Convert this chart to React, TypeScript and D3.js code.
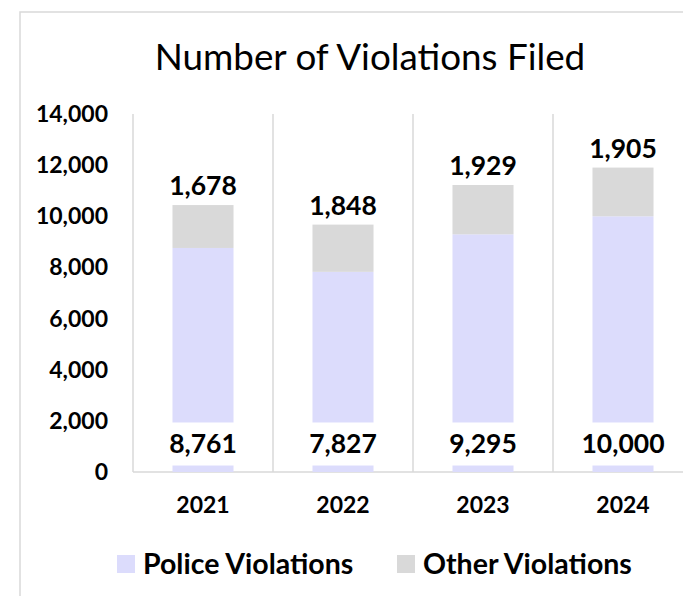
import React, { useRef, useEffect } from 'react';
import * as d3 from 'd3';

const years = ['2021', '2022', '2023', '2024'];
const policeViolations = [8761, 7827, 9295, 10000];
const otherViolations = [1678, 1848, 1929, 1905];
const yTicks = [0, 2000, 4000, 6000, 8000, 10000, 12000, 14000];
const seriesNames = ['Police Violations', 'Other Violations'];
const seriesColors = ['#dcdcfc', '#d9d9d9'];

const W = 683;
const H = 596;
const FONT = 'Lato, "Open Sans", sans-serif';

const App = () => {
    const ref = useRef<SVGSVGElement>(null);

    useEffect(() => {
        const svg = d3.select(ref.current);
        svg.selectAll('*').remove();

        const left = 133, right = 693, top = 114, bottom = 472;

        const x = d3.scaleBand().domain(years).range([left, right])
            .paddingInner(0.564).paddingOuter(0.282);
        const y = d3.scaleLinear().domain([0, 14000]).range([bottom, top]);
        const fmt = d3.format(',');

        // outer chart border
        svg.append('rect')
            .attr('x', 20).attr('y', 12)
            .attr('width', 720).attr('height', 620)
            .attr('fill', 'white')
            .attr('stroke', '#d9d9d9').attr('stroke-width', 1.5);

        svg.append('text')
            .attr('x', 370).attr('y', 70)
            .attr('text-anchor', 'middle')
            .style('font-family', FONT)
            .style('font-size', '36.8px')
            .text('Number of Violations Filed');

        // vertical gridlines at category boundaries
        const step = x.step();
        const bounds = years.map((_, i) => left + i * step).concat([right]);
        svg.append('g').selectAll('line')
            .data(bounds)
            .enter().append('line')
            .attr('x1', d => d).attr('x2', d => d)
            .attr('y1', top).attr('y2', bottom)
            .attr('stroke', '#d9d9d9').attr('stroke-width', 1.5);

        svg.append('line')
            .attr('x1', left).attr('x2', right)
            .attr('y1', bottom).attr('y2', bottom)
            .attr('stroke', '#d9d9d9').attr('stroke-width', 1.5);

        // y labels
        svg.append('g').selectAll('text')
            .data(yTicks)
            .enter().append('text')
            .attr('x', 108).attr('y', d => y(d))
            .attr('dy', '0.35em')
            .attr('text-anchor', 'end')
            .style('font-family', FONT).style('font-weight', 'bold').style('font-size', '23px')
            .text(d => fmt(d));

        // x labels
        svg.append('g').selectAll('text')
            .data(years)
            .enter().append('text')
            .attr('x', d => x(d)! + x.bandwidth() / 2).attr('y', 505)
            .attr('dy', '0.35em')
            .attr('text-anchor', 'middle')
            .style('font-family', FONT).style('font-weight', 'bold').style('font-size', '23px')
            .text(d => d);

        const rows = years.map((yr, i) => ({ year: yr, police: policeViolations[i], other: otherViolations[i] }));
        const stacked = d3.stack<any>().keys(['police', 'other'])(rows);

        stacked.forEach((layer, li) => {
            svg.append('g').selectAll('rect')
                .data(layer)
                .enter().append('rect')
                .attr('x', d => x(d.data.year)!)
                .attr('width', x.bandwidth())
                .attr('y', d => y(d[1]))
                .attr('height', d => y(d[0]) - y(d[1]))
                .attr('fill', seriesColors[li]);
        });

        // police labels, white box near base
        const pl = svg.append('g').selectAll('g')
            .data(rows)
            .enter().append('g')
            .attr('transform', d => `translate(${x(d.year)! + x.bandwidth() / 2},${y(0) - 28})`);
        pl.append('rect')
            .attr('x', -50).attr('y', -21.5)
            .attr('width', 100).attr('height', 43)
            .attr('fill', 'white');
        pl.append('text')
            .attr('dy', '0.35em')
            .attr('text-anchor', 'middle')
            .style('font-family', FONT).style('font-weight', 'bold').style('font-size', '26.5px')
            .text(d => fmt(d.police));

        // other labels above bars
        svg.append('g').selectAll('text')
            .data(rows)
            .enter().append('text')
            .attr('x', d => x(d.year)! + x.bandwidth() / 2)
            .attr('y', d => y(d.police + d.other) - 19)
            .attr('dy', '0.35em')
            .attr('text-anchor', 'middle')
            .style('font-family', FONT).style('font-weight', 'bold').style('font-size', '26.5px')
            .text(d => fmt(d.other));

        // legend
        const legendX = [117, 397];
        const lg = svg.append('g').selectAll('g')
            .data(seriesNames)
            .enter().append('g')
            .attr('transform', (_, i) => `translate(${legendX[i]},564)`);
        lg.append('rect')
            .attr('x', 0).attr('y', -9)
            .attr('width', 18).attr('height', 18)
            .attr('fill', (_, i) => seriesColors[i]);
        lg.append('text')
            .attr('x', 26).attr('dy', '0.35em')
            .style('font-family', FONT).style('font-weight', 'bold').style('font-size', '28.5px')
            .text(d => d);
    }, []);

    return (
        <div style={{ position: 'absolute', left: 0, top: 0, width: W, height: H, overflow: 'hidden' }}>
            <svg ref={ref} width={W} height={H} style={{ display: 'block', background: 'white' }}></svg>
        </div>
    );
};

export default App;
